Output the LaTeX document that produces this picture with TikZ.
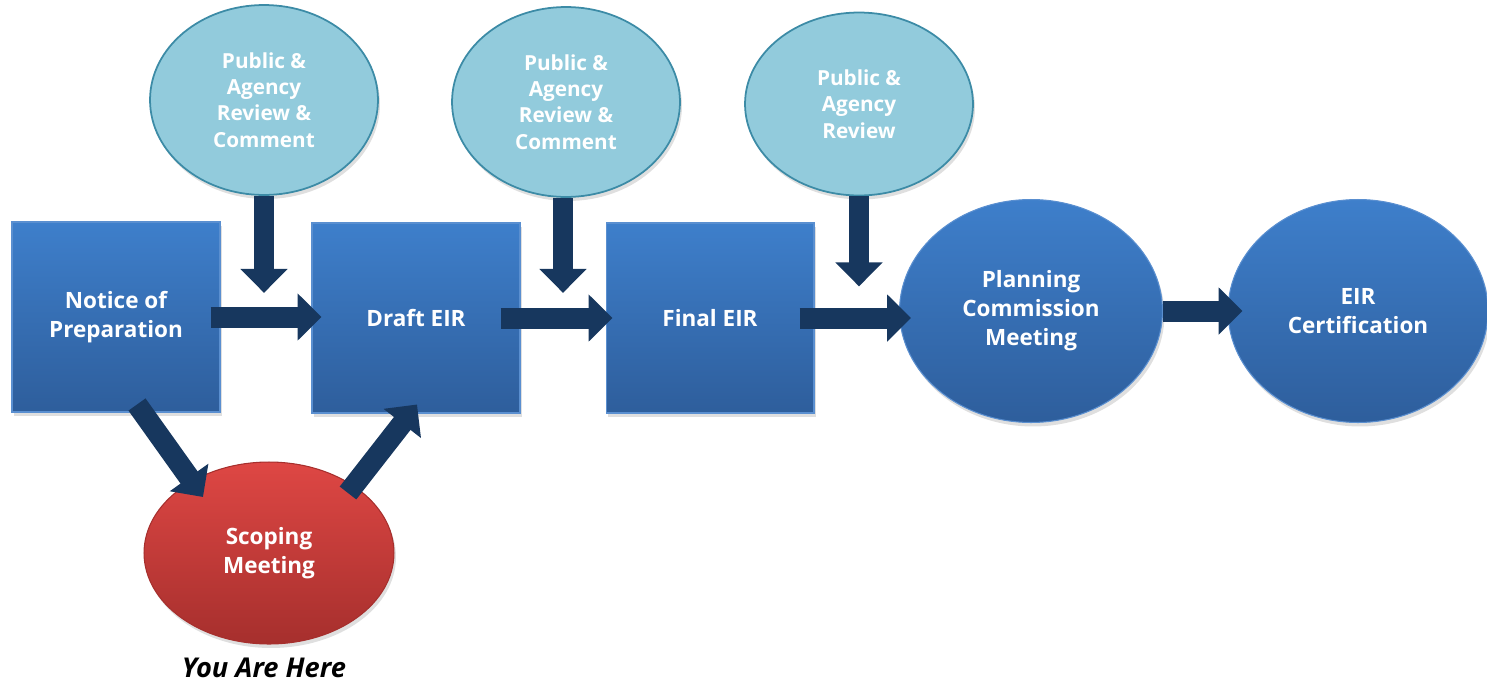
\documentclass[tikz,border=0pt]{standalone}
\usepackage{fontspec}
\setmainfont{Open Sans}
\usetikzlibrary{arrows.meta}
\usetikzlibrary{shapes.geometric}
\usetikzlibrary{shadows}
\definecolor{stepTop}{HTML}{3E7FCB}
\definecolor{stepBot}{HTML}{2E5E9C}
\definecolor{stepLine}{HTML}{5A8FD0}
\definecolor{reviewFill}{HTML}{92CBDC}
\definecolor{reviewLine}{HTML}{3C8BA6}
\definecolor{scopeTop}{HTML}{DE4744}
\definecolor{scopeBot}{HTML}{A62F2D}
\definecolor{arrowNavy}{HTML}{17375E}
\tikzset{
softshadow/.style={ % Sets the soft shadow under each shape
drop shadow={opacity=0.25, shadow xshift=0.04cm, shadow yshift=-0.08cm}},
stepbox/.style={ % Blue process boxes
rectangle,
minimum width=4.16cm, minimum height=3.8cm,
top color=stepTop, bottom color=stepBot,
draw=stepLine, line width=0.6pt,
text=white, align=center,
font=\bfseries\fontsize{12.8}{16.5}\selectfont,
softshadow},
stepoval/.style={ % Blue meeting ovals
stepbox, ellipse,
minimum width=5.26cm, minimum height=4.46cm},
reviewoval/.style={ % Light review ovals on top
ellipse,
minimum width=4.56cm, minimum height=3.8cm,
fill=reviewFill, draw=reviewLine, line width=1pt,
text=white, align=center,
font=\bfseries\fontsize{11.8}{15}\selectfont,
softshadow},
scopeoval/.style={ % Red oval for the current step
ellipse,
minimum width=5cm, minimum height=3.64cm,
top color=scopeTop, bottom color=scopeBot,
draw=scopeBot, line width=0.6pt,
text=white, align=center,
font=\bfseries\fontsize{12.8}{16.5}\selectfont,
softshadow},
herelabel/.style={ % Caption under the red oval
font=\bfseries\itshape\fontsize{15.5}{16.5}\selectfont},
flowarrow/.style={ % Fat navy arrows
draw=arrowNavy, line width=0.42cm,
-{Triangle[width=0.92cm, length=0.48cm]}},
downarrow/.style={ % Fat arrows from the review ovals
flowarrow, line width=0.4cm}}

\begin{document}
\begin{tikzpicture}[x=0.02cm, y=-0.02cm]
	\useasboundingbox (0,0) rectangle (1487,683);
	% main row
	\node[stepbox] (notice) at (116,317) {Notice of\\Preparation};
	\node[stepbox] (draft) at (416,318) {Draft EIR};
	\node[stepbox] (final) at (710,318) {Final EIR};
	\node[stepoval] (planning) at (1031,311) {Planning\\Commission\\Meeting};
	\node[stepoval, minimum width=5.2cm] (cert) at (1358,311) {EIR\\Certification};
	% review ovals
	\node[reviewoval] (review1) at (264,100) {Public \&\\Agency\\Review \&\\Comment};
	\node[reviewoval] (review2) at (566,102) {Public \&\\Agency\\Review \&\\Comment};
	\node[reviewoval, minimum height=3.66cm] (review3) at (859,104) {Public \&\\Agency\\Review};
	% scoping
	\node[scopeoval] (scoping) at (269,553) {Scoping\\Meeting};
	\node[herelabel] (here) at (264,668) {You Are Here};
	% arrows along the row
	\draw[flowarrow] ([xshift=-0.2cm]notice.east) -- ([xshift=0.2cm]notice.east -| draft.west);
	\draw[flowarrow] ([xshift=-0.4cm]draft.east) -- ([xshift=0.14cm]draft.east -| final.west);
	\draw[flowarrow] ([xshift=-0.3cm]final.east) -- ([xshift=0.24cm]final.east -| planning.west);
	\draw[flowarrow] (planning.east) -- ([xshift=0.3cm]planning.east -| cert.west);
	% arrows from the reviews
	\draw[downarrow] (review1.south) -- ++(0,97);
	\draw[downarrow] ([xshift=-0.06cm]review2.south) -- ++(0,95);
	\draw[downarrow] (review3.south) -- ++(0,90);
	% detour through scoping
	\draw[flowarrow] ([shift={(21,-8)}]notice.south) -- ([shift={(-66,-56)}]scoping.center);
	\draw[flowarrow] ([shift={(79,-60)}]scoping.center) -- ([shift={(1,-9)}]draft.south);
\end{tikzpicture}
\end{document}
